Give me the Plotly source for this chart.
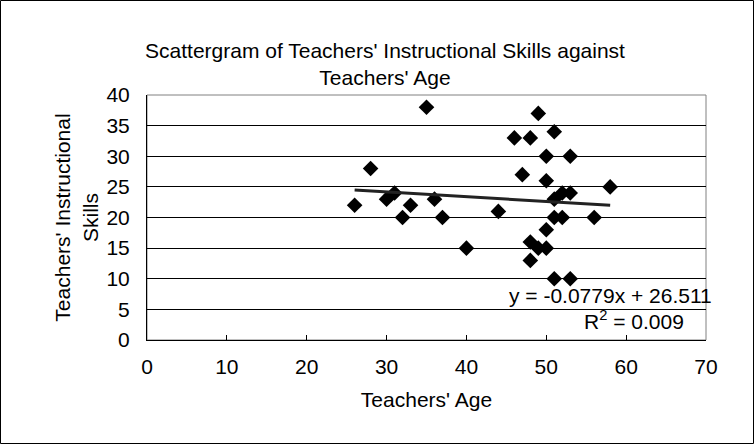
import plotly.graph_objects as go

# Data
age = [35, 28, 26, 30, 31, 32, 33, 36, 37,
       40, 44, 46, 48, 49, 47, 50, 51, 53, 50, 58, 52, 53, 51,
       51, 52, 56, 50, 48, 49, 50, 48, 51, 53]
skills = [38, 28, 22, 23, 24, 20, 22, 23, 20,
          15, 21, 33, 33, 37, 27, 30, 34, 30, 26, 25, 24, 24, 23,
          20, 20, 20, 18, 16, 15, 15, 13, 10, 10]
slope = -0.0779
intercept = 26.511
r_squared = 0.009
x_ticks = [0, 10, 20, 30, 40, 50, 60, 70]
y_ticks = [0, 5, 10, 15, 20, 25, 30, 35, 40]

W, H = 754, 444
L, R, T, B = 147, 48, 95, 104
FONT = "Liberation Sans, Arial, sans-serif"
FS = 21

xmin, xmax = min(age), max(age)
trend_x = [xmin, xmax]
trend_y = [slope * v + intercept for v in trend_x]

fig = go.Figure()
fig.add_trace(go.Scatter(
    x=age, y=skills, mode="markers",
    marker=dict(symbol="diamond", size=12, color="black"),
    showlegend=False, hoverinfo="x+y"))
fig.add_trace(go.Scatter(
    x=trend_x, y=trend_y, mode="lines",
    line=dict(color="#222222", width=3),
    showlegend=False))

pw = W - L - R
ph = H - T - B
fig.add_shape(type="rect", xref="paper", yref="paper",
              x0=0, x1=1, y0=0, y1=1,
              line=dict(color="#808080", width=1), layer="below")
fig.add_shape(type="rect", xref="paper", yref="paper",
              x0=(-L + 0.5) / pw, x1=(pw + R - 0.5) / pw,
              y0=(-B + 0.5) / ph, y1=(ph + T - 0.5) / ph,
              line=dict(color="black", width=1))

fig.add_annotation(xref="paper", yref="paper", x=(714 - L) / pw, y=(340 - 295) / ph,
                   text=f"y = {slope}x + {intercept}", showarrow=False,
                   xanchor="right", yanchor="middle",
                   font=dict(family=FONT, size=FS, color="black"))
fig.add_annotation(xref="paper", yref="paper", x=(686 - L) / pw, y=(340 - 320) / ph,
                   text=f"R<sup>2</sup> = {r_squared}", showarrow=False,
                   xanchor="right", yanchor="middle",
                   font=dict(family=FONT, size=FS, color="black"))

fig.update_layout(
    width=W, height=H,
    margin=dict(l=L, r=R, t=T, b=B),
    paper_bgcolor="white", plot_bgcolor="white",
    font=dict(family=FONT, size=FS, color="black"),
    title=dict(text="Scattergram of Teachers' Instructional Skills against<br>Teachers' Age",
               x=385 / W, xanchor="center", y=1 - 58 / H, yanchor="top",
               font=dict(family=FONT, size=FS, color="black")),
    xaxis=dict(range=[0, 70], tickvals=x_ticks, showgrid=False, zeroline=False,
               showline=True, linecolor="black", linewidth=1,
               ticks="inside", ticklen=5, tickcolor="black",
               ticklabelstandoff=8,
               title=dict(text="Teachers' Age", standoff=15,
                          font=dict(family=FONT, size=FS)),
               tickfont=dict(family=FONT, size=FS)),
    yaxis=dict(range=[0, 40], tickvals=y_ticks, showgrid=True, gridcolor="black",
               gridwidth=1, zeroline=False,
               showline=True, linecolor="black", linewidth=1,
               ticks="inside", ticklen=5, tickcolor="black",
               ticklabelstandoff=12,
               title=dict(text="Teachers' Instructional<br>Skills", standoff=2,
                          font=dict(family=FONT, size=FS)),
               tickfont=dict(family=FONT, size=FS)),
)

fig.write_html("out.html", config={"displayModeBar": False},
               post_script="document.body.style.margin='0';window.dispatchEvent(new Event('resize'));")
